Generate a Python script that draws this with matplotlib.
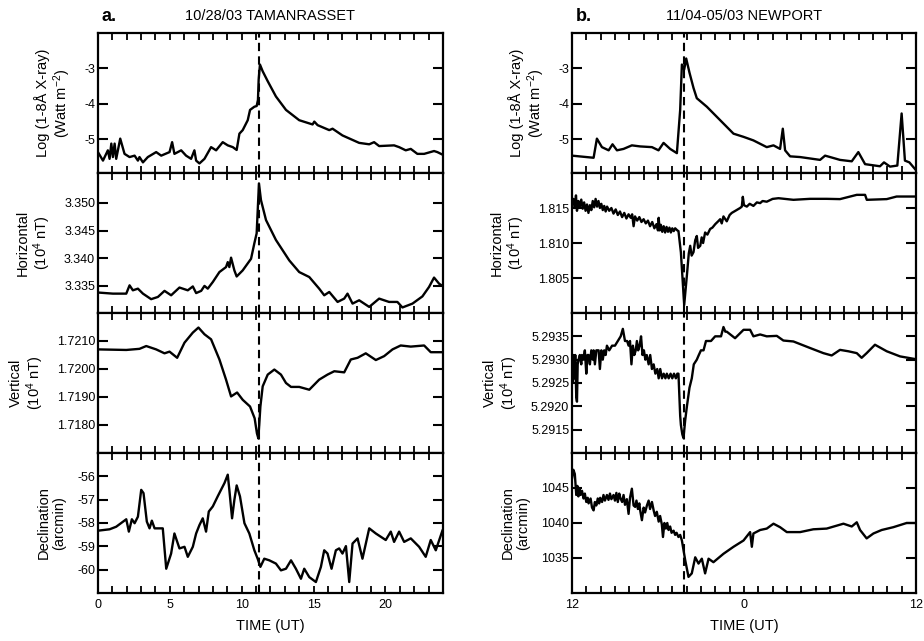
import matplotlib
matplotlib.use("Agg")
import matplotlib.pyplot as plt
from matplotlib.ticker import MultipleLocator, FuncFormatter

plt.rcParams.update({
    "font.family": ["Liberation Sans", "DejaVu Sans"],
    "mathtext.fontset": "custom",
    "mathtext.rm": "Liberation Sans",
    "mathtext.it": "Liberation Sans:italic",
    "mathtext.bf": "Liberation Sans:bold",
    "axes.linewidth": 1.6,
})

# ---------------- panel a: 10/28/03 Tamanrasset (hours UT) ----------------
a_xray_t = [0, 0.35, 0.69, 0.81, 0.93, 1.04, 1.16, 1.27, 1.55, 1.85, 2.2, 2.55, 2.78, 2.89,
            3.13, 3.47, 4.05, 4.4, 4.98, 5.16, 5.32, 5.79, 6.13, 6.48, 6.71, 6.83, 7.06, 7.41,
            7.87, 8.22, 8.68, 9.03, 9.38, 9.65, 9.84, 10.07, 10.42, 10.58, 10.88, 11.04, 11.13,
            11.18, 11.27, 11.46, 11.81, 12.38, 13.08, 14.0, 14.93, 15.05, 15.28, 16.09, 16.32,
            17.01, 18.17, 18.87, 19.21, 19.56, 20.6, 20.95, 21.41, 21.76, 22.22, 22.69, 23.38,
            23.61, 23.96]
a_xray_v = [-5.36, -5.6, -5.31, -5.55, -5.12, -5.5, -5.12, -5.55, -4.98, -5.41, -5.5, -5.46,
            -5.6, -5.5, -5.65, -5.5, -5.36, -5.46, -5.36, -5.08, -5.41, -5.31, -5.46, -5.55,
            -5.31, -5.6, -5.68, -5.55, -5.22, -5.31, -5.08, -5.17, -5.22, -5.3, -4.84, -4.74,
            -4.46, -4.17, -4.08, -4.06, -3.89, -3.31, -2.89, -3.08, -3.36, -3.79, -4.17, -4.46,
            -4.58, -4.5, -4.6, -4.74, -4.7, -4.89, -5.1, -5.14, -5.08, -5.19, -5.17, -5.22,
            -5.31, -5.27, -5.41, -5.41, -5.33, -5.36, -5.43]

a_hor_t = [0, 1.04, 1.97, 2.2, 2.43, 2.78, 3.13, 3.7, 4.17, 4.63, 5.09, 5.67, 6.25, 6.6, 6.83,
           7.18, 7.41, 7.64, 7.99, 8.45, 8.91, 9.03, 9.14, 9.26, 9.49, 9.65, 10.07, 10.65,
           10.88, 11.04, 11.2, 11.34, 11.69, 12.38, 13.31, 14.0, 14.7, 15.39, 15.74, 16.09,
           16.67, 17.13, 17.36, 17.71, 18.17, 18.87, 19.56, 20.25, 20.83, 21.18, 21.88, 22.57,
           23.03, 23.38, 23.73, 23.96]
a_hor_v = [3.3338, 3.3336, 3.3336, 3.3351, 3.3342, 3.3345, 3.3336, 3.3326, 3.3330, 3.3341,
           3.3333, 3.3347, 3.3342, 3.3349, 3.3337, 3.3341, 3.3350, 3.3345, 3.3357, 3.3375,
           3.3384, 3.3393, 3.3384, 3.3401, 3.3378, 3.3367, 3.3378, 3.3399, 3.3427, 3.3445,
           3.3535, 3.3505, 3.3469, 3.3433, 3.3396, 3.3375, 3.3366, 3.3345, 3.3333, 3.3339,
           3.3321, 3.3327, 3.3336, 3.3318, 3.3324, 3.3312, 3.3327, 3.3321, 3.3321, 3.3311,
           3.3318, 3.3331, 3.3348, 3.3365, 3.3354, 3.3350]

a_ver_t = [0, 1.97, 2.89, 3.36, 4.05, 4.63, 4.98, 5.51, 6.02, 6.6, 6.99, 7.41, 7.87, 8.45, 8.91,
           9.26, 9.68, 10.07, 10.58, 10.9, 11.06, 11.16, 11.3, 11.46, 11.81, 12.27, 12.73,
           13.08, 13.43, 14.0, 14.7, 15.39, 15.97, 16.44, 17.13, 17.59, 18.06, 18.63, 19.33,
           19.91, 20.49, 21.06, 21.76, 22.69, 23.15, 23.96]
a_ver_v = [1.72070, 1.72068, 1.72072, 1.72082, 1.72070, 1.72056, 1.72062, 1.72040, 1.72094,
           1.72130, 1.72148, 1.72124, 1.72106, 1.72034, 1.71962, 1.71902, 1.71916, 1.71890,
           1.71866, 1.71824, 1.71770, 1.71752, 1.71866, 1.71938, 1.71980, 1.71998, 1.71980,
           1.71950, 1.71936, 1.71936, 1.71926, 1.71962, 1.71980, 1.71992, 1.71988, 1.72034,
           1.72040, 1.72056, 1.72032, 1.72046, 1.72070, 1.72084, 1.72080, 1.72084, 1.72060,
           1.72060]

a_dec_t = [0, 0.81, 1.27, 1.97, 2.15, 2.36, 2.55, 2.78, 3.01, 3.17, 3.4, 3.59, 3.75, 3.94, 4.51,
           4.75, 5.09, 5.32, 5.67, 6.02, 6.25, 6.6, 6.83, 7.06, 7.29, 7.52, 7.71, 7.99, 8.33,
           8.56, 8.8, 9.03, 9.14, 9.33, 9.49, 9.65, 9.88, 10.19, 10.53, 10.88, 11.11, 11.3,
           11.57, 11.92, 12.38, 12.73, 13.08, 13.43, 13.77, 14.12, 14.35, 14.7, 15.16, 15.51,
           15.74, 15.97, 16.25, 16.55, 16.78, 17.01, 17.25, 17.48, 17.71, 18.06, 18.4, 18.87,
           19.33, 20.02, 20.37, 20.6, 20.95, 21.3, 21.76, 22.34, 22.8, 23.15, 23.5, 23.96]
a_dec_v = [-58.33, -58.27, -58.16, -57.84, -58.37, -57.84, -58.01, -57.73, -56.58, -56.72,
           -57.94, -58.23, -57.90, -58.23, -58.23, -59.96, -59.31, -58.45, -59.09, -59.02,
           -59.45, -59.02, -58.45, -58.09, -57.80, -58.37, -57.51, -57.29, -56.86, -56.58,
           -56.29, -55.93, -56.58, -57.80, -57.01, -56.39, -56.86, -58.01, -58.45, -59.17,
           -59.53, -59.88, -59.53, -59.60, -59.74, -60.03, -59.96, -59.60, -59.96, -60.39,
           -59.96, -60.32, -60.53, -59.88, -59.17, -59.31, -59.96, -59.17, -59.09, -59.31,
           -58.99, -60.53, -58.88, -58.66, -59.53, -58.23, -58.45, -58.73, -58.37, -58.81,
           -58.37, -58.81, -58.66, -59.02, -59.45, -58.73, -59.17, -58.33]

# ---------------- panel b: 11/04-05/03 Newport (hours after 12 UT) ----------------
b_xray_t = [0, 1.51, 1.74, 2.09, 2.56, 2.83, 3.14, 3.6, 4.18, 4.76, 5.58, 6.04, 6.39, 6.85,
            7.32, 7.55, 7.67, 7.83, 7.97, 8.2, 8.48, 8.71, 9.41, 10.34, 11.27, 11.97, 12.66,
            13.59, 14.06, 14.52, 14.71, 14.87, 15.22, 15.92, 17.31, 17.66, 18.01, 18.7, 19.52,
            19.98, 20.45, 21.49, 21.77, 22.19, 22.7, 23.0, 23.23, 23.54, 24.0]
b_xray_v = [-5.46, -5.52, -4.98, -5.22, -5.31, -5.14, -5.31, -5.27, -5.17, -5.2, -5.22, -5.31,
            -5.1, -5.27, -5.39, -4.17, -2.89, -3.03, -2.72, -3.12, -3.55, -3.84, -4.08, -4.46,
            -4.84, -4.93, -5.03, -5.22, -5.17, -5.27, -4.7, -5.31, -5.48, -5.5, -5.58, -5.46,
            -5.5, -5.58, -5.62, -5.36, -5.7, -5.76, -5.65, -5.77, -5.74, -4.27, -5.6, -5.65,
            -5.87]

b_hor_t = [0.0, 0.1, 0.2, 0.28, 0.35, 0.45, 0.55, 0.65, 0.75, 0.85, 0.95, 1.05, 1.15, 1.25,
           1.35, 1.45, 1.55, 1.65, 1.75, 1.85, 1.95, 2.05, 2.15, 2.25, 2.35, 2.45, 2.6, 2.75,
           2.9, 3.05, 3.2, 3.35, 3.5, 3.65, 3.8, 3.95, 4.1, 4.2, 4.3, 4.4, 4.55, 4.7, 4.85, 5.0,
           5.15, 5.3, 5.45, 5.6, 5.75, 5.9, 6.0, 6.05, 6.12, 6.2, 6.3, 6.4, 6.5, 6.6, 6.7, 6.8,
           6.9, 7.0, 7.1, 7.2, 7.35, 7.43, 7.6, 7.83, 8.02, 8.15, 8.25, 8.35, 8.48, 8.6, 8.71,
           8.8, 8.95, 9.05, 9.15, 9.29, 9.45, 9.64, 9.8, 10.0, 10.2, 10.34, 10.45, 10.57, 10.7,
           10.8, 11.0, 11.15, 11.4, 11.73, 11.85, 11.92, 12.0, 12.2, 12.4, 12.66, 12.9, 13.13,
           13.3, 13.59, 14.0, 14.41, 15.45, 16.61, 17.77, 18.7, 19.87, 20.45, 20.57, 21.96,
           22.65, 24.0]
b_hor_v = [1.8155, 1.8163, 1.8150, 1.8168, 1.8146, 1.8160, 1.8152, 1.8162, 1.8149, 1.8158,
           1.8146, 1.8155, 1.8143, 1.8154, 1.8147, 1.8160, 1.8151, 1.8163, 1.8152, 1.8160,
           1.8150, 1.8156, 1.8147, 1.8153, 1.8145, 1.8152, 1.8146, 1.8150, 1.8142, 1.8148,
           1.8140, 1.8145, 1.8137, 1.8143, 1.8135, 1.8141, 1.8136, 1.8141, 1.8124, 1.8138,
           1.8132, 1.8137, 1.8130, 1.8134, 1.8128, 1.8132, 1.8124, 1.8130, 1.8121, 1.8127,
           1.8118, 1.8136, 1.8118, 1.8126, 1.8116, 1.8124, 1.8115, 1.8123, 1.8116, 1.8122,
           1.8115, 1.8121, 1.8117, 1.8121, 1.8118, 1.8117, 1.80866, 1.80115, 1.8054, 1.8085,
           1.8096, 1.8082, 1.8087, 1.8104, 1.8110, 1.8093, 1.8096, 1.8108, 1.8100, 1.8115,
           1.8112, 1.8120, 1.8122, 1.8127, 1.8131, 1.8134, 1.8128, 1.8138, 1.8134, 1.8131,
           1.8140, 1.8143, 1.8146, 1.8150, 1.8152, 1.8166, 1.8154, 1.8152, 1.8156, 1.8153,
           1.8158, 1.8157, 1.8160, 1.8159, 1.8163, 1.8164, 1.81617, 1.81631, 1.81631, 1.81627,
           1.81688, 1.81688, 1.81617, 1.81627, 1.81664, 1.81664]

b_ver_t = [0, 0.06, 0.12, 0.18, 0.23, 0.3, 0.35, 0.4, 0.46, 0.55, 0.65, 0.7, 0.8, 0.9, 1.0,
           1.08, 1.16, 1.25, 1.35, 1.45, 1.51, 1.6, 1.7, 1.86, 1.95, 2.05, 2.15, 2.25, 2.35,
           2.44, 2.6, 2.8, 3.0, 3.2, 3.4, 3.55, 3.7, 3.85, 3.95, 4.05, 4.15, 4.25, 4.35, 4.45,
           4.53, 4.62, 4.72, 4.82, 4.92, 5.02, 5.12, 5.22, 5.35, 5.46, 5.58, 5.7, 5.82, 5.95,
           6.05, 6.16, 6.28, 6.4, 6.52, 6.62, 6.75, 6.88, 7.0, 7.12, 7.25, 7.35, 7.43, 7.55,
           7.6, 7.7, 7.78, 7.9, 8.02, 8.2, 8.36, 8.5, 8.71, 8.85, 9.0, 9.18, 9.35, 9.53, 9.7,
           9.99, 10.2, 10.4, 10.57, 10.7, 10.8, 11.38, 11.97, 12.43, 12.66, 13.13, 13.59,
           14.29, 14.75, 15.45, 16.61, 17.54, 18.12, 18.7, 19.28, 19.87, 20.21, 20.56, 21.14,
           21.96, 22.89, 24.0]
b_ver_v = [5.2929, 5.2925, 5.2931, 5.2926, 5.2931, 5.2922, 5.2921, 5.2929, 5.2930, 5.2931,
           5.2929, 5.2931, 5.2930, 5.2932, 5.2927, 5.2931, 5.2931, 5.2929, 5.2932, 5.2930,
           5.2932, 5.2929, 5.2932, 5.2932, 5.2928, 5.2932, 5.2930, 5.2932, 5.2931, 5.2933,
           5.2932, 5.2933, 5.2933, 5.2934, 5.2935, 5.29366, 5.2934, 5.2934, 5.2933, 5.2934,
           5.2929, 5.2933, 5.2931, 5.2932, 5.2934, 5.2932, 5.2933, 5.2935, 5.2931, 5.2932,
           5.2930, 5.2931, 5.2929, 5.2931, 5.2928, 5.2929, 5.2927, 5.2928, 5.2926, 5.2928,
           5.2926, 5.2927, 5.2926, 5.2927, 5.2926, 5.2927, 5.2926, 5.2927, 5.2926, 5.2927,
           5.2927, 5.2918, 5.2916, 5.2914, 5.29132, 5.2917, 5.2920, 5.2924, 5.2926, 5.2929,
           5.2930, 5.2931, 5.2932, 5.2932, 5.2934, 5.2934, 5.2934, 5.2935, 5.2935, 5.2935,
           5.2937, 5.2936, 5.2936, 5.29346, 5.29364, 5.29364, 5.29350, 5.29354, 5.29350,
           5.29351, 5.29341, 5.29339, 5.29325, 5.29314, 5.29309, 5.29321, 5.29318, 5.29314,
           5.29304, 5.29314, 5.29332, 5.29318, 5.29307, 5.29301]

b_dec_t = [0, 0.1, 0.2, 0.3, 0.38, 0.45, 0.51, 0.6, 0.7, 0.81, 0.9, 1.0, 1.1, 1.16, 1.3, 1.4,
           1.51, 1.6, 1.7, 1.8, 1.9, 1.97, 2.1, 2.2, 2.3, 2.44, 2.55, 2.65, 2.75, 2.9, 3.0, 3.1,
           3.2, 3.3, 3.37, 3.5, 3.6, 3.7, 3.83, 3.95, 4.05, 4.18, 4.3, 4.41, 4.5, 4.6, 4.7,
           4.76, 4.88, 5.0, 5.1, 5.23, 5.35, 5.45, 5.58, 5.7, 5.8, 5.92, 6.05, 6.15, 6.27, 6.35,
           6.45, 6.55, 6.65, 6.74, 6.85, 6.95, 7.09, 7.2, 7.3, 7.43, 7.55, 7.67, 7.9, 8.13,
           8.36, 8.6, 8.83, 9.06, 9.29, 9.53, 9.87, 10.57, 11.27, 11.97, 12.43, 12.55, 12.66,
           13.13, 13.59, 14.06, 14.52, 14.99, 15.92, 16.84, 17.77, 18.94, 19.52, 19.87, 20.1,
           20.56, 21.03, 21.61, 22.42, 23.35, 24.0]
b_dec_v = [1046.3, 1047.6, 1047.0, 1044.0, 1045.3, 1043.8, 1045.0, 1044.0, 1044.6, 1043.5,
           1044.2, 1043.0, 1043.6, 1042.8, 1043.5, 1042.2, 1041.8, 1043.0, 1042.5, 1043.5,
           1042.8, 1043.6, 1043.0, 1044.0, 1043.2, 1044.0, 1043.3, 1044.2, 1043.4, 1044.0,
           1043.2, 1044.3, 1043.0, 1044.2, 1043.6, 1043.0, 1044.0, 1042.6, 1043.4, 1041.3,
           1043.6, 1044.9, 1042.5, 1042.3, 1043.2, 1042.0, 1042.8, 1041.8, 1040.4, 1042.2,
           1041.5, 1042.5, 1043.2, 1042.0, 1043.0, 1041.8, 1041.0, 1041.6, 1040.2, 1041.0,
           1039.8, 1038.0, 1040.0, 1039.2, 1040.0, 1039.0, 1039.5, 1038.6, 1038.9, 1038.3,
           1038.6, 1038.0, 1038.3, 1037.5, 1034.7, 1032.3, 1032.8, 1035.1, 1034.2, 1034.9,
           1032.8, 1034.9, 1034.4, 1035.6, 1036.6, 1037.5, 1038.7, 1036.6, 1038.5, 1039.0,
           1039.2, 1039.9, 1039.4, 1038.7, 1038.7, 1039.1, 1039.2, 1039.9, 1039.5, 1040.1,
           1039.0, 1037.8, 1038.5, 1039.0, 1039.4, 1040.0, 1040.0]

flare_a = 11.2   # 11:12 UT
flare_b = 7.83   # 19:50 UT, 7.83 h after 12 UT

ylabels = ["Log (1-8Å X-ray)\n(Watt m$^{-2}$)", "Horizontal\n(10$^4$ nT)",
           "Vertical\n(10$^4$ nT)", "Declination\n(arcmin)"]

columns = [
    dict(left=0.106, width=0.3734, flare=flare_a, tag="a.", title="10/28/03 TAMANRASSET",
         series=[(a_xray_t, a_xray_v), (a_hor_t, a_hor_v), (a_ver_t, a_ver_v), (a_dec_t, a_dec_v)],
         ylims=[(-5.95, -2.0), (3.3301, 3.3554), (1.7170, 1.7220), (-61.0, -55.0)],
         yticks=[[-5, -4, -3], [3.335, 3.340, 3.345, 3.350], [1.718, 1.719, 1.720, 1.721],
                 [-60, -59, -58, -57, -56]],
         yfmt=["{:.0f}", "{:.3f}", "{:.4f}", "{:.0f}"],
         xlabels={0: "0", 5: "5", 10: "10", 15: "15", 20: "20"}),
    dict(left=0.619, width=0.3723, flare=flare_b, tag="b.", title="11/04-05/03 NEWPORT",
         series=[(b_xray_t, b_xray_v), (b_hor_t, b_hor_v), (b_ver_t, b_ver_v), (b_dec_t, b_dec_v)],
         ylims=[(-5.95, -2.0), (1.800, 1.820), (5.2910, 5.2940), (1030, 1050)],
         yticks=[[-5, -4, -3], [1.805, 1.810, 1.815], [5.2915, 5.292, 5.2925, 5.293, 5.2935],
                 [1035, 1040, 1045]],
         yfmt=["{:.0f}", "{:.3f}", "{:.4f}", "{:.0f}"],
         xlabels={0: "12", 12: "0", 24: "12"}),
]

bottoms = [0.7301, 0.5117, 0.2933, 0.0749]
height = 0.2184

fig = plt.figure(figsize=(9.24, 6.41), dpi=100)

for col in columns:
    for r in range(4):
        ax = fig.add_axes([col["left"], bottoms[r], col["width"], height])
        t, v = col["series"][r]
        ax.plot(t, v, color="black", lw=1.7, solid_joinstyle="round")
        ax.axvline(col["flare"], color="black", lw=1.5, ls=(0, (4, 2.5)))
        ax.set_xlim(0, 24)
        ax.set_ylim(*col["ylims"][r])
        ax.set_yticks(col["yticks"][r])
        fmt = col["yfmt"][r]
        ax.yaxis.set_major_formatter(FuncFormatter(lambda y, p, f=fmt: f.format(y)))
        ax.xaxis.set_major_locator(MultipleLocator(1))
        ax.tick_params(axis="x", direction="in", length=5, width=1.3, top=True, bottom=True,
                       labelsize=9, pad=4)
        ax.tick_params(axis="y", direction="in", length=7, width=1.5, left=True, right=True,
                       labelsize=9, pad=2)
        ax.set_ylabel(ylabels[r], fontsize=10.5, labelpad=8, linespacing=1.1)
        if r == 3:
            xl = col["xlabels"]
            ax.xaxis.set_major_formatter(FuncFormatter(lambda x, p, xl=xl: xl.get(int(round(x)), "")))
            ax.set_xlabel("TIME (UT)", fontsize=10.5, labelpad=6)
        else:
            ax.set_xticklabels([])
        if r == 0:
            cx = col["left"] + col["width"] / 2
            fig.text(cx, 0.975, col["title"], ha="center", va="center", fontsize=10.5)
            fig.text(col["left"] + 0.004, 0.975, col["tag"], ha="left", va="center",
                     fontsize=13, fontweight="bold")

fig.savefig("out.png", dpi=100, facecolor="white")
